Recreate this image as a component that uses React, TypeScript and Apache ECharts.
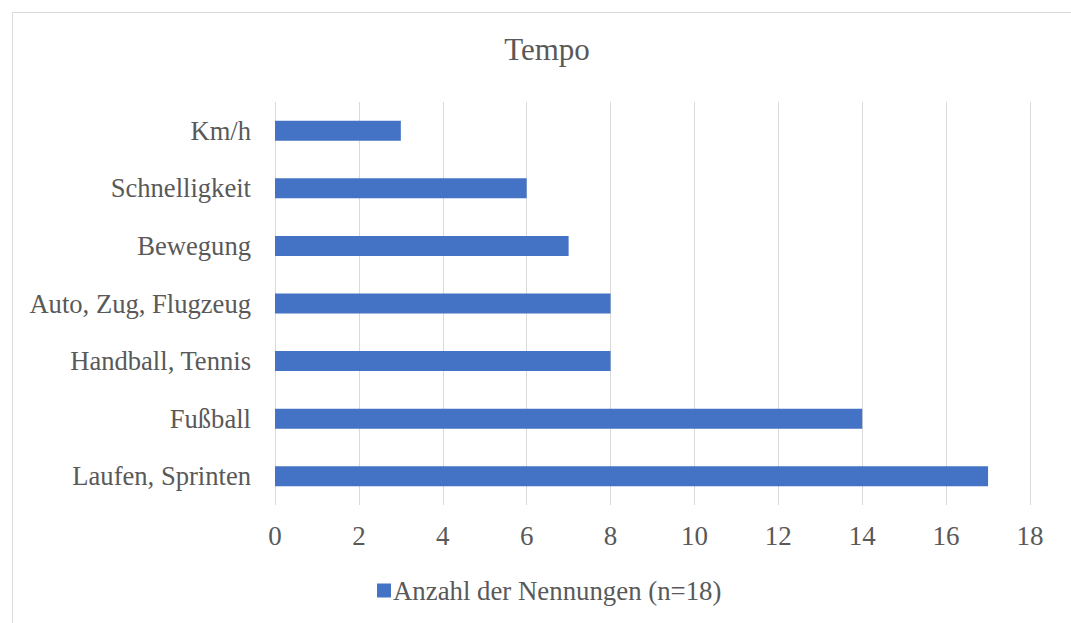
import React, { useEffect, useRef } from "react";
import * as echarts from "echarts";

const categories = ["Km/h", "Schnelligkeit", "Bewegung", "Auto, Zug, Flugzeug", "Handball, Tennis", "Fußball", "Laufen, Sprinten"];
const values = [3, 6, 7, 8, 8, 14, 17];
const seriesName = "Anzahl der Nennungen (n=18)";
const titleText = "Tempo";

export default function App() {
  const ref = useRef<HTMLDivElement>(null);
  useEffect(() => {
    document.body.style.margin = "0";
    const chart = echarts.init(ref.current!, null, { renderer: "svg" });
    const font = "'Liberation Serif', 'Times New Roman', serif";
    const color = "#595959";
    chart.setOption({
      animation: false,
      textStyle: { fontFamily: font },
      title: {
        text: titleText,
        left: 542,
        top: 29,
        textAlign: "center",
        textStyle: { fontFamily: font, fontSize: 31, fontWeight: "normal", color },
      },
      graphic: [
        {
          type: "rect",
          shape: { x: 12.5, y: 12.5, width: 1200, height: 800 },
          style: { fill: "none", stroke: "#d9d9d9", lineWidth: 1 },
          silent: true,
        },
      ],
      legend: {
        data: [seriesName],
        left: 372,
        top: 572,
        icon: "rect",
        itemWidth: 14,
        itemHeight: 14,
        itemGap: 4,
        textStyle: { fontFamily: font, fontSize: 26.8, color, padding: [0, 0, 0, -3] },
      },
      grid: { left: 275, right: 41, top: 102, bottom: 118, containLabel: false },
      xAxis: {
        type: "value",
        min: 0,
        max: 18,
        interval: 2,
        axisLine: { show: false },
        axisTick: { show: false },
        splitLine: { show: true, lineStyle: { color: "#d9d9d9", width: 1 } },
        axisLabel: { fontFamily: font, fontSize: 27, color, margin: 17 },
      },
      yAxis: {
        type: "category",
        data: categories,
        inverse: true,
        axisLine: { show: false },
        axisTick: { show: false },
        axisLabel: { fontFamily: font, fontSize: 26.6, color, margin: 24 },
      },
      series: [
        {
          name: seriesName,
          type: "bar",
          data: values,
          barWidth: 20,
          itemStyle: { color: "#4472C4" },
        },
      ],
    });
    return () => chart.dispose();
  }, []);
  return <div ref={ref} style={{ width: 1071, height: 623 }} />;
}
